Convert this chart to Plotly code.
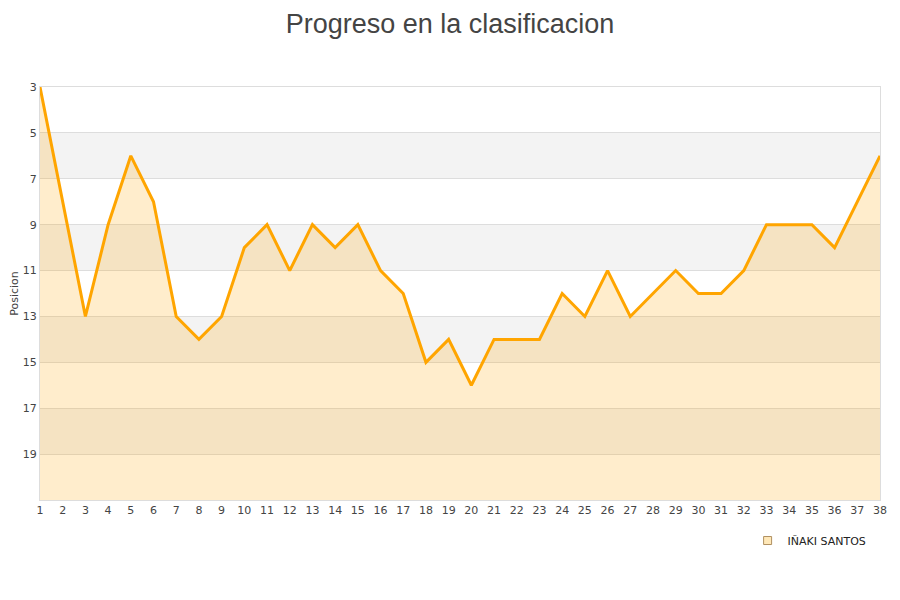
import plotly.graph_objs as go

jornadas = list(range(1, 39))
posicion = [3, 8, 13, 9, 6, 8, 13, 14, 13, 10, 9, 11, 9, 10, 9, 11, 12, 15, 14, 16,
            14, 14, 14, 12, 13, 11, 13, 12, 11, 12, 12, 11, 9, 9, 9, 10, 8, 6]
jugador = "IÑAKI SANTOS"
y_ticks = [3, 5, 7, 9, 11, 13, 15, 17, 19]
bandas = [(5, 7), (9, 11), (13, 15), (17, 19)]
fondo = 21

fig = go.Figure()

# linea base para rellenar hasta abajo
fig.add_trace(go.Scatter(x=jornadas, y=[fondo] * len(jornadas), mode="lines",
                         line=dict(width=0), showlegend=False, hoverinfo="skip"))
fig.add_trace(go.Scatter(x=jornadas, y=posicion, mode="lines", fill="tonexty",
                         fillcolor="rgba(255,165,0,0.2)",
                         line=dict(color="#FFA500", width=3),
                         showlegend=False, name=jugador))
# entrada de leyenda
fig.add_trace(go.Scatter(x=[None], y=[None], mode="markers", name=jugador,
                         marker=dict(symbol="square", size=8, color="#FFE8B8",
                                     line=dict(color="#B09060", width=1))))

for a, b in bandas:
    fig.add_shape(type="rect", xref="paper", x0=0, x1=1, yref="y", y0=a, y1=b,
                  fillcolor="#F3F3F3", line_width=0, layer="below")

fig.update_layout(
    title=dict(text="Progreso en la clasificacion", x=0.5, y=0.99, yanchor="top",
               font=dict(family="Liberation Sans, Arial", size=27, color="#444")),
    font=dict(family="DejaVu Sans", size=11, color="#444"),
    plot_bgcolor="white", paper_bgcolor="white",
    margin=dict(l=32, r=12, t=79, b=92, autoexpand=False),
    legend=dict(x=0.99, y=-0.063, xanchor="right", yanchor="top",
                font=dict(family="DejaVu Sans", size=11, color="#222")),
)
fig.update_xaxes(range=[1, 38], tickmode="array", tickvals=jornadas,
                 showgrid=False, showline=True, linecolor="#ddd", mirror=True,
                 ticks="", zeroline=False, tickfont=dict(size=11), automargin=False)
fig.update_yaxes(range=[fondo, 3], tickmode="array", tickvals=y_ticks,
                 showgrid=True, gridcolor="#ddd", showline=True, linecolor="#ddd",
                 mirror=True, zeroline=False, ticks="", automargin=False,
                 title=dict(text="Posicion", font=dict(size=11), standoff=8))

fig.write_html("out.html")
